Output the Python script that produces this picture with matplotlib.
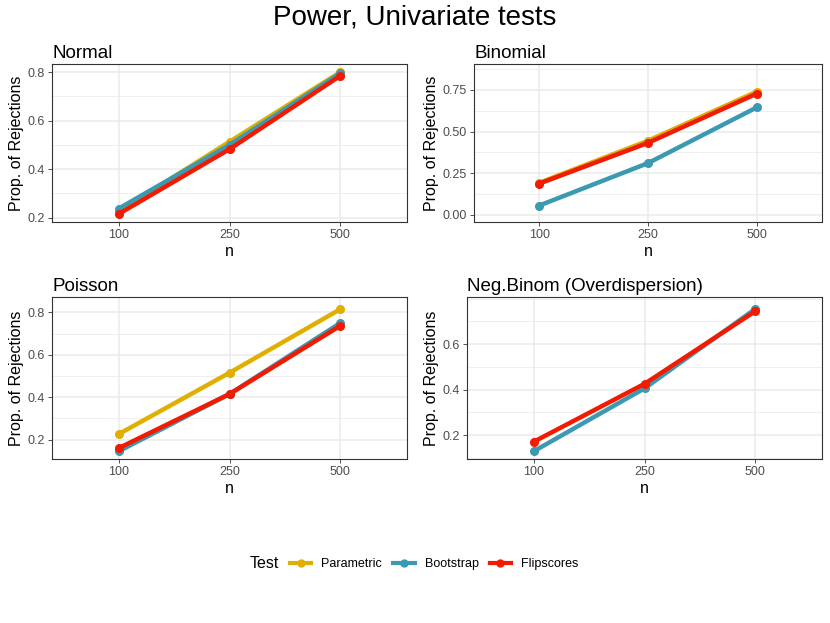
import matplotlib
matplotlib.use("Agg")
import matplotlib.pyplot as plt
from matplotlib.ticker import MultipleLocator
from matplotlib.lines import Line2D
import numpy as np

plt.rcParams['font.family'] = ['Liberation Sans', 'DejaVu Sans']

n_labels = ["100", "250", "500"]
tests = ["Parametric", "Bootstrap", "Flipscores"]
colors = {"Parametric": "#E1AF00", "Bootstrap": "#3B9AB2", "Flipscores": "#F21A00"}

panels = ["Normal", "Binomial", "Poisson", "Neg.Binom (Overdispersion)"]
normal = {"Parametric": [0.225, 0.513, 0.800], "Bootstrap": [0.237, 0.500, 0.795], "Flipscores": [0.215, 0.482, 0.785]}
binomial = {"Parametric": [0.192, 0.445, 0.740], "Bootstrap": [0.055, 0.310, 0.645], "Flipscores": [0.187, 0.432, 0.728]}
poisson = {"Parametric": [0.226, 0.515, 0.815], "Bootstrap": [0.145, 0.415, 0.750], "Flipscores": [0.160, 0.415, 0.737]}
negbinom = {"Parametric": [np.nan, np.nan, np.nan], "Bootstrap": [0.128, 0.405, 0.755], "Flipscores": [0.170, 0.425, 0.745]}
data = [normal, binomial, poisson, negbinom]

# layout (pixels)
W, H = 830, 623
boxes = [(52, 64, 407, 222), (474, 64, 822, 222), (52, 297, 407, 459), (467, 297, 822, 459)]
ylims = [(0.182, 0.833), (-0.044, 0.906), (0.109, 0.872), (0.0945, 0.807)]
yticks = [[0.2, 0.4, 0.6, 0.8], [0.0, 0.25, 0.5, 0.75], [0.2, 0.4, 0.6, 0.8], [0.2, 0.4, 0.6]]
ytlabels = [["0.2", "0.4", "0.6", "0.8"], ["0.00", "0.25", "0.50", "0.75"],
            ["0.2", "0.4", "0.6", "0.8"], ["0.2", "0.4", "0.6"]]
yminor = [0.1, 0.125, 0.1, 0.1]

fig = plt.figure(figsize=(W / 100, H / 100), dpi=100)
x = np.arange(1, len(n_labels) + 1)

for i, (name, d, (l, t, r, b)) in enumerate(zip(panels, data, boxes)):
    ax = fig.add_axes([l / W, 1 - b / H, (r - l) / W, (b - t) / H])
    ax.set_facecolor("white")
    for tname in tests:
        ax.plot(x, d[tname], color=colors[tname], lw=3.2, marker="o", ms=5.5, zorder=3,
                solid_capstyle="butt")
    ax.set_xlim(0.4, 3.6)
    ax.set_ylim(*ylims[i])
    ax.set_xticks(x)
    ax.set_xticklabels(n_labels)
    ax.set_yticks(yticks[i])
    ax.set_yticklabels(ytlabels[i])
    ax.yaxis.set_minor_locator(MultipleLocator(yminor[i]))
    ax.grid(True, which="major", color="#EBEBEB", lw=1.1, zorder=0)
    ax.grid(True, which="minor", axis="y", color="#EBEBEB", lw=0.55, zorder=0)
    ax.set_axisbelow(True)
    ax.tick_params(axis="both", which="major", labelsize=9, labelcolor="#4D4D4D",
                   color="#333333", length=3, width=0.6, pad=2)
    ax.tick_params(axis="both", which="minor", length=0)
    for s in ax.spines.values():
        s.set_color("#333333")
        s.set_linewidth(0.8)
    ax.set_xlabel("n", fontsize=11.5, labelpad=2)
    ax.set_ylabel("Prop. of Rejections", fontsize=11.5, labelpad=3)
    ax.set_title(name, loc="left", fontsize=13.5, pad=4)

fig.text(0.5, 1 - 17 / H, "Power, Univariate tests", ha="center", va="center", fontsize=20)

# legend
ly = 1 - 564 / H
fig.text(250 / W, ly, "Test", ha="left", va="center", fontsize=11.5)
handles = [Line2D([0], [0], color=colors[t], lw=3, marker="o", ms=5) for t in tests]
leg = fig.legend(handles, tests, loc="center left", bbox_to_anchor=(290 / W, ly), ncol=3,
                 frameon=False, fontsize=9, handlelength=1.7, borderpad=0, borderaxespad=0,
                 columnspacing=0.9, handletextpad=0.8)

fig.savefig("out.png", dpi=100)
